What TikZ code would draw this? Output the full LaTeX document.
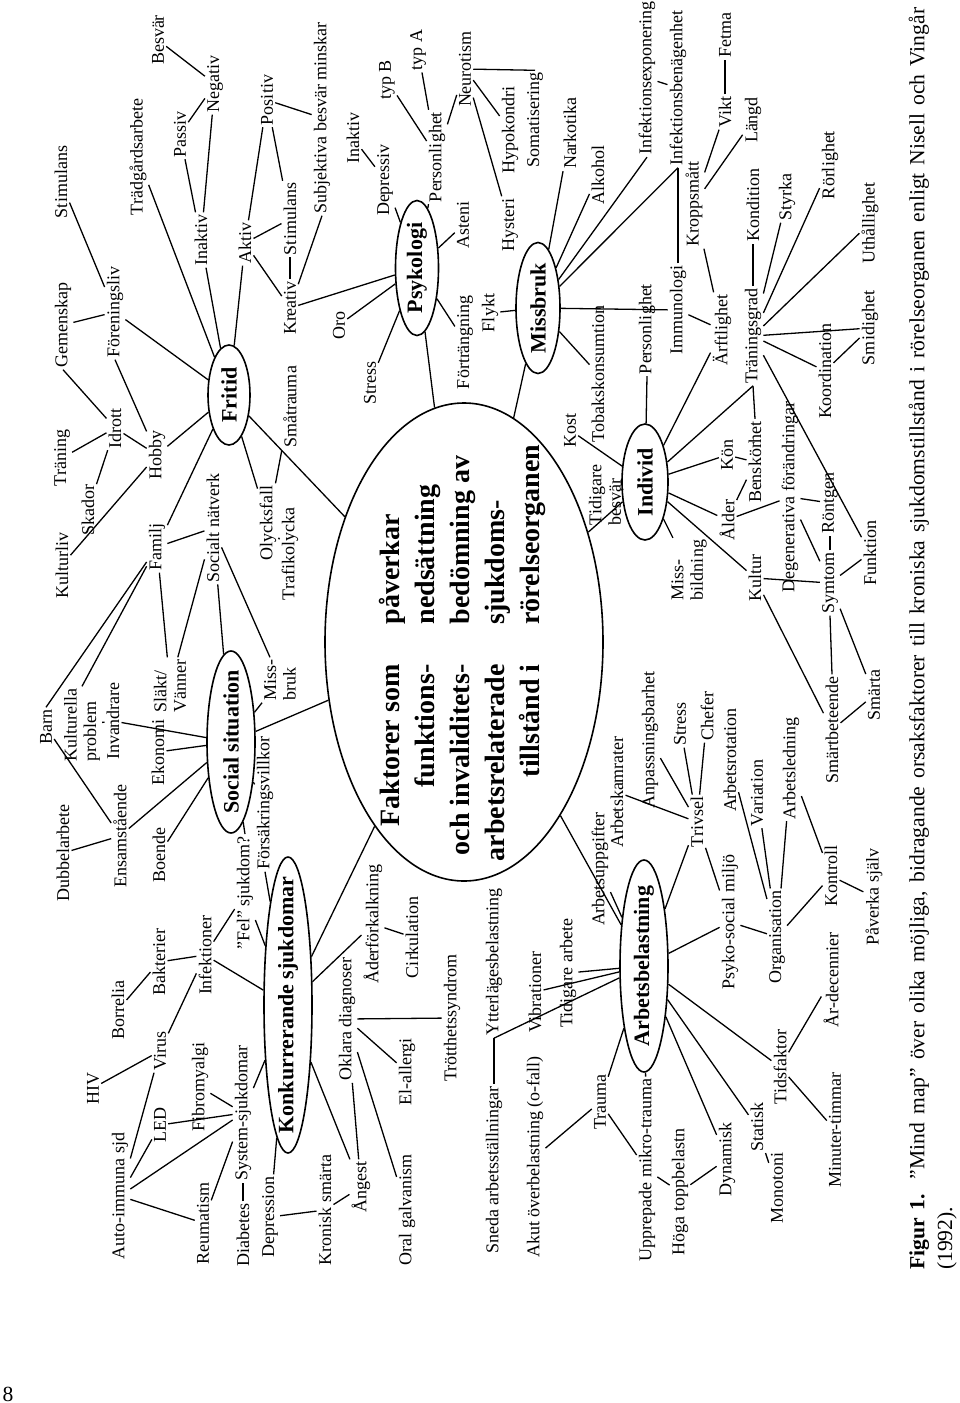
\documentclass[tikz,border=0pt]{standalone}
\usepackage{fontspec}
\setmainfont{Liberation Serif}
\usetikzlibrary{shapes.geometric}
\newcommand\lblfont{\fontsize{18}{19.5}\selectfont}
\newcommand\ovalfont{\fontsize{22}{24}\selectfont\bfseries}
\newcommand\centerfont{\fontsize{28}{35}\selectfont\bfseries}
\newcommand\capfont{\fontsize{21.6}{26}\selectfont}
\begin{document}
\begin{tikzpicture}[x=1pt,y=-1pt,
  lbl/.style={rotate=90,font=\lblfont,inner sep=2pt},
  oval/.style={ellipse,draw,line width=1.6pt,rotate=90,inner sep=0pt},
  ovaltext/.style={rotate=90,font=\ovalfont,inner sep=0pt},
  con/.style={line width=1.3pt}]
\fill[white] (0,0) rectangle (960,1403);
\useasboundingbox (0,0) rectangle (960,1403);
% ---------- ellipses
\node[oval,minimum width=478pt,minimum height=278pt] (main) at (464,642) {};
\node[ovaltext,font=\centerfont] (maintext) at (462,653)
 {\begin{tabular}{@{}r@{\hspace{40pt}}l@{}}Faktorer som & påverkar\\ funktions- & nedsättning\\ och invaliditets- & bedömning av\\ arbetsrelaterade & sjukdoms-\\ tillstånd i & rörelseorganen\end{tabular}};
\node[oval,minimum width=100pt,minimum height=42pt] (fritid) at (229,395) {};
\node[ovaltext] (fritidtext) at (fritid) {Fritid};
\node[oval,minimum width=135pt,minimum height=43pt] (psykologi) at (417,268) {};
\node[ovaltext] (psykologitext) at (psykologi) {Psykologi};
\node[oval,minimum width=131pt,minimum height=44pt] (missbruk) at (538,308) {};
\node[ovaltext] (missbruktext) at (missbruk) {Missbruk};
\node[oval,minimum width=116pt,minimum height=46pt] (individ) at (645,482) {};
\node[ovaltext] (individtext) at (individ) {Individ};
\node[oval,minimum width=182pt,minimum height=48pt] (socsit) at (231,742) {};
\node[ovaltext] (socsittext) at (socsit) {Social situation};
\node[oval,minimum width=296pt,minimum height=48pt] (konk) at (288,1005) {};
\node[ovaltext] (konktext) at (konk) {Konkurrerande sjukdomar};
\node[oval,minimum width=212pt,minimum height=48pt] (arbetsbel) at (644,966) {};
\node[ovaltext] (arbetsbeltext) at (arbetsbel) {Arbetsbelastning};
% ---------- Fritid cluster
\node[lbl] (besvar) at (158,40) {Besvär};
\node[lbl] (negativ) at (215,84) {Negativ};
\node[lbl] (passiv) at (180,134) {Passiv};
\node[lbl] (tradg) at (138,157) {Trädgårdsarbete};
\node[lbl] (stim1) at (61,182) {Stimulans};
\node[lbl] (inaktiv1) at (201,240) {Inaktiv};
\node[lbl] (positiv) at (267,100) {Positiv};
\node[lbl] (aktiv) at (245,243) {Aktiv};
\node[lbl] (stim2) at (290,219) {Stimulans};
\node[lbl] (kreativ) at (290,308) {Kreativ};
\node[lbl] (gemenskap) at (63,325) {Gemenskap};
\node[lbl] (forening) at (115,312) {Föreningsliv};
\node[lbl] (subj) at (322,118) {Subjektiva besvär minskar};
\node[lbl] (idrott) at (115,428) {Idrott};
\node[lbl] (traning) at (62,458) {Träning};
\node[lbl] (skador) at (88,510) {Skador};
\node[lbl] (hobby) at (157,455) {Hobby};
\node[lbl] (kulturliv) at (62,565) {Kulturliv};
\node[lbl] (familj) at (157,547) {Familj};
\node[lbl] (socnat) at (213,528) {Socialt nätverk};
\node[lbl] (olycksfall) at (268,523) {Olycksfall};
\node[lbl] (trafik) at (290,554) {Trafikolycka};
\node[lbl] (smatrauma) at (290,407) {Småtrauma};
% ---------- Psykologi cluster
\node[lbl] (inaktiv2) at (353,138) {Inaktiv};
\node[lbl] (depressiv) at (385,180) {Depressiv};
\node[lbl] (typB) at (387,80) {typ B};
\node[lbl] (typA) at (418,50) {typ A};
\node[lbl] (personl1) at (437,157) {Personlighet};
\node[lbl] (neurotism) at (465,69) {Neurotism};
\node[lbl] (hypokondri) at (510,130) {Hypokondri};
\node[lbl] (somatis) at (535,120) {Somatisering};
\node[lbl] (asteni) at (463,225) {Asteni};
\node[lbl] (hysteri) at (510,225) {Hysteri};
\node[lbl] (oro) at (339,325) {Oro};
\node[lbl] (stress1) at (370,383) {Stress};
\node[lbl] (fortrang) at (465,342) {Förträngning};
\node[lbl] (flykt) at (490,313) {Flykt};
% ---------- Missbruk cluster
\node[lbl] (narkotika) at (570,133) {Narkotika};
\node[lbl] (alkohol) at (598,175) {Alkohol};
\node[lbl] (tobak) at (598,374) {Tobakskonsumtion};
\node[lbl] (kost) at (570,430) {Kost};
\node[lbl,align=left] (tidbesvar) at (605,495) {Tidigare\\besvär};
% ---------- Individ cluster
\node[lbl] (infexp) at (647,78) {Infektionsexponering};
\node[lbl] (infben) at (678,88) {Infektionsbenägenhet};
\node[lbl] (fetma) at (725,35) {Fetma};
\node[lbl] (vikt) at (725,112) {Vikt};
\node[lbl] (langd) at (753,120) {Längd};
\node[lbl] (kroppsmatt) at (694,204) {Kroppsmått};
\node[lbl] (kondition) at (753,205) {Kondition};
\node[lbl] (styrka) at (787,197) {Styrka};
\node[lbl] (rorlighet) at (830,165) {Rörlighet};
\node[lbl] (uthallighet) at (870,223) {Uthållighet};
\node[lbl] (immunologi) at (678,310) {Immunologi};
\node[lbl] (personl2) at (647,329) {Personlighet};
\node[lbl] (arftlighet) at (722,330) {Ärftlighet};
\node[lbl] (traningsgrad) at (753,336) {Träningsgrad};
\node[lbl] (smidighet) at (870,328) {Smidighet};
\node[lbl] (koordination) at (825,371) {Koordination};
\node[lbl] (benskorhet) at (755,462) {Benskörhet};
\node[lbl] (kon) at (727,455) {Kön};
\node[lbl] (alder) at (727,520) {Ålder};
\node[lbl,align=left] (missbild) at (689,570) {Miss-\\bildning};
\node[lbl] (kultur) at (755,578) {Kultur};
\node[lbl] (degen) at (790,497) {Degenerativa förändringar};
\node[lbl] (rontgen) at (830,503) {Röntgen};
\node[lbl] (symtom) at (830,583) {Symtom};
\node[lbl] (funktion) at (870,553) {Funktion};
\node[lbl] (smartbet) at (832,730) {Smärtbeteende};
\node[lbl] (smarta) at (874,695) {Smärta};
% ---------- Arbetsbelastning cluster
\node[lbl] (arbuppg) at (600,869) {Arbetsuppgifter};
\node[lbl] (arbkam) at (617,792) {Arbetskamrater};
\node[lbl] (anpass) at (650,740) {Anpassningsbarhet};
\node[lbl] (stress2) at (680,724) {Stress};
\node[lbl] (chefer) at (707,716) {Chefer};
\node[lbl] (trivsel) at (697,822) {Trivsel};
\node[lbl] (arbrot) at (730,760) {Arbetsrotation};
\node[lbl] (variation) at (757,793) {Variation};
\node[lbl] (arbled) at (791,768) {Arbetsledning};
\node[lbl] (psyko) at (730,922) {Psyko-social miljö};
\node[lbl] (organis) at (777,937) {Organisation};
\node[lbl] (kontroll) at (831,876) {Kontroll};
\node[lbl] (paverka) at (874,897) {Påverka själv};
\node[lbl] (ardec) at (831,980) {År-decennier};
\node[lbl] (tidsfaktor) at (780,1067) {Tidsfaktor};
\node[lbl] (minuter) at (835,1130) {Minuter-timmar};
\node[lbl] (monotoni) at (777,1188) {Monotoni};
\node[lbl] (statisk) at (757,1127) {Statisk};
\node[lbl] (dynamisk) at (727,1159) {Dynamisk};
\node[lbl] (hoga) at (680,1192) {Höga toppbelastn};
\node[lbl] (upprepade) at (647,1170) {Upprepade mikro-trauma};
\node[lbl] (trauma) at (600,1102) {Trauma};
\node[lbl] (akut) at (535,1157) {Akut överbelastning (o-fall)};
\node[lbl] (sneda) at (494,1170) {Sneda arbetsställningar};
\node[lbl] (ytter) at (494,962) {Ytterlägesbelastning};
\node[lbl] (vibrationer) at (535,992) {Vibrationer};
\node[lbl] (tidarbete) at (568,973) {Tidigare arbete};
% ---------- Konkurrerande cluster
\node[lbl] (aderf) at (373,924) {Åderförkalkning};
\node[lbl] (oklara) at (347,1019) {Oklara diagnoser};
\node[lbl] (cirk) at (412,937) {Cirkulation};
\node[lbl] (trott) at (452,1018) {Trötthetssyndrom};
\node[lbl] (elallergi) at (407,1072) {El-allergi};
\node[lbl] (oral) at (407,1210) {Oral galvanism};
\node[lbl] (angest) at (361,1187) {Ångest};
\node[lbl] (kronisk) at (325,1210) {Kronisk smärta};
\node[lbl] (depression) at (270,1217) {Depression};
\node[lbl] (system) at (243,1113) {System-sjukdomar};
\node[lbl] (diabetes) at (243,1235) {Diabetes};
\node[lbl] (reumatism) at (203,1223) {Reumatism};
\node[lbl] (fibro) at (200,1087) {Fibromyalgi};
\node[lbl] (led) at (160,1125) {LED};
\node[lbl] (autoimm) at (120,1196) {Auto-immuna sjd};
\node[lbl] (hiv) at (93,1088) {HIV};
\node[lbl] (virus) at (160,1051) {Virus};
\node[lbl] (borrelia) at (118,1010) {Borrelia};
\node[lbl] (bakterier) at (159,962) {Bakterier};
\node[lbl] (infektioner) at (205,955) {Infektioner};
\node[lbl] (fel) at (245,893) {”Fel” sjukdom?};
\node[lbl] (forsakr) at (265,803) {Försäkringsvillkor};
% ---------- Social situation cluster
\node[lbl] (barn) at (46,727) {Barn};
\node[lbl,align=left] (kultprob) at (82,725) {Kulturella\\problem};
\node[lbl] (invandrare) at (113,721) {Invandrare};
\node[lbl] (ekonomi) at (158,752) {Ekonomi};
\node[lbl,align=left] (slakt) at (170,686) {Släkt/\\Vänner};
\node[lbl,align=left] (missbruk2) at (280,680) {Miss-\\bruk};
\node[lbl] (dubbel) at (63,853) {Dubbelarbete};
\node[lbl] (ensam) at (120,836) {Ensamstående};
\node[lbl] (boende) at (159,855) {Boende};
% ---------- caption
\node[lbl,font=\capfont,anchor=west,inner sep=0pt] (cap1) at (919,1270) {\makebox[1262pt][s]{\textbf{Figur 1.} ”Mind map” över olika möjliga, bidragande orsaksfaktorer till kroniska sjukdomstillstånd i rörelseorganen enligt Nisell och Vingår}};
\node[lbl,font=\capfont,anchor=west,inner sep=0pt] (cap2) at (947,1270) {(1992).};
\node[font=\capfont,inner sep=0pt] (pnum) at (8,1394) {8};
% ---------- connectors
\begin{scope}[con]
% Fritid
\draw (besvar)--(negativ); \draw (passiv)--(negativ); \draw (passiv)--(inaktiv1);
\draw (negativ)--(inaktiv1); \draw (inaktiv1)--(fritid); \draw (tradg)--(fritid);
\draw (stim1)--(forening); \draw (gemenskap)--(forening); \draw (forening)--(fritid);
\draw (forening.west)--(hobby); \draw (aktiv)--(positiv); \draw (positiv)--(stim2);
\draw (positiv)--(subj); \draw (aktiv)--(stim2); \draw (aktiv)--(kreativ);
\draw (aktiv)--(fritid); \draw (kreativ.east)--(stim2.west); \draw (kreativ)--(subj.west);
\draw (kreativ)--(psykologi); \draw (gemenskap.west)--(idrott); \draw (traning)--(idrott);
\draw (skador)--(idrott); \draw (idrott)--(hobby); \draw (hobby)--(fritid);
\draw (kulturliv)--(hobby); \draw (familj)--(fritid); \draw (familj)--(socnat);
\draw (fritid)--(olycksfall); \draw (smatrauma)--(olycksfall); \draw (olycksfall)--(trafik);
\draw (fritid)--(main);
% Social situation
\draw (familj)--(barn.east); \draw (familj)--(kultprob.east); \draw (familj)--(slakt);
\draw (socnat)--(slakt); \draw (socnat)--(socsit); \draw (socnat)--(missbruk2);
\draw (missbruk2)--(socsit); \draw (barn)--(ensam); \draw (kultprob)--(invandrare);
\draw (invandrare)--(socsit); \draw (ekonomi)--(socsit); \draw (dubbel)--(ensam);
\draw (ensam)--(socsit); \draw (boende)--(socsit); \draw (forsakr)--(socsit);
\draw (fel.east)--(socsit); \draw (socsit)--(main);
% Konkurrerande
\draw (borrelia)--(bakterier); \draw (bakterier)--(infektioner); \draw (virus)--(infektioner);
\draw (infektioner)--(fel); \draw (infektioner)--(konk); \draw (fel)--(konk);
\draw (forsakr.west)--(konk); \draw (hiv)--(virus); \draw (autoimm)--(virus);
\draw (autoimm)--(led); \draw (autoimm)--(system); \draw (autoimm)--(reumatism);
\draw (led)--(system); \draw (fibro)--(system); \draw (reumatism)--(system);
\draw (diabetes.east)--(system.west); \draw (system)--(konk); \draw (depression)--(konk);
\draw (depression)--(kronisk); \draw (kronisk)--(angest); \draw (konk)--(angest);
\draw (oklara)--(angest); \draw (oklara)--(oral); \draw (oklara)--(elallergi);
\draw (oklara)--(trott); \draw (konk)--(aderf); \draw (aderf)--(cirk); \draw (konk)--(main);
% Arbetsbelastning
\draw (main)--(arbetsbel); \draw (arbuppg)--(arbetsbel); \draw (tidarbete)--(arbetsbel);
\draw (vibrationer)--(arbetsbel); \draw (ytter.west)--(arbetsbel); \draw (sneda.east)--(ytter.west);
\draw (akut)--(trauma); \draw (trauma)--(arbetsbel); \draw (trauma)--(upprepade);
\draw (upprepade)--(arbetsbel); \draw (upprepade)--(hoga); \draw (hoga)--(dynamisk);
\draw (dynamisk)--(arbetsbel); \draw (statisk)--(arbetsbel); \draw (statisk)--(monotoni);
\draw (tidsfaktor)--(arbetsbel); \draw (tidsfaktor)--(minuter); \draw (tidsfaktor)--(ardec);
\draw (arbetsbel)--(psyko); \draw (arbetsbel)--(trivsel); \draw (arbkam)--(trivsel);
\draw (anpass)--(trivsel); \draw (stress2)--(trivsel); \draw (chefer)--(trivsel);
\draw (psyko)--(trivsel); \draw (psyko)--(organis); \draw (arbrot)--(organis);
\draw (variation)--(organis); \draw (arbled)--(organis); \draw (arbled)--(kontroll);
\draw (organis)--(kontroll); \draw (kontroll)--(paverka);
% Individ
\draw (main)--(individ); \draw (individ)--(personl2.west); \draw (individ)--(arftlighet);
\draw (individ)--(traningsgrad.west); \draw (individ)--(kon); \draw (individ)--(alder);
\draw (individ)--(missbild); \draw (individ)--(kultur); \draw (kost)--(individ);
\draw (tidbesvar)--(individ); \draw (kon)--(benskorhet); \draw (alder)--(benskorhet);
\draw (alder)--(degen); \draw (degen)--(rontgen); \draw (degen)--(symtom);
\draw (symtom.east)--(rontgen.west); \draw (symtom)--(funktion); \draw (kultur)--(symtom);
\draw (kultur)--(smartbet); \draw (smartbet.east)--(symtom.west); \draw (symtom)--(smarta);
\draw (smartbet)--(smarta); \draw (benskorhet.east)--(traningsgrad.west);
\draw (traningsgrad.east)--(kondition.west); \draw (traningsgrad)--(styrka);
\draw (traningsgrad)--(rorlighet); \draw (traningsgrad)--(uthallighet);
\draw (traningsgrad)--(smidighet); \draw (traningsgrad)--(koordination);
\draw (traningsgrad)--(funktion); \draw (koordination)--(smidighet);
\draw (kroppsmatt)--(vikt); \draw (kroppsmatt)--(langd); \draw (kroppsmatt)--(arftlighet);
\draw (vikt.east)--(fetma.west); \draw (immunologi)--(arftlighet);
\draw (immunologi.east)--(infben.west); \draw (infben)--(infexp);
% Missbruk
\draw (main)--(missbruk); \draw (missbruk)--(narkotika); \draw (missbruk)--(alkohol);
\draw (missbruk)--(infexp.west); \draw (missbruk)--(infben.west); \draw (missbruk)--(immunologi);
\draw (missbruk)--(flykt); \draw (missbruk)--(tobak);
% Psykologi
\draw (main)--(psykologi); \draw (psykologi)--(stress1); \draw (psykologi)--(oro);
\draw (psykologi)--(depressiv); \draw (psykologi)--(personl1); \draw (psykologi)--(asteni);
\draw (psykologi)--(fortrang); \draw (inaktiv2)--(depressiv); \draw (typB)--(personl1);
\draw (typA)--(personl1); \draw (personl1)--(neurotism); \draw (neurotism)--(hysteri);
\draw (neurotism)--(hypokondri); \draw (neurotism)--(somatis.east);
\end{scope}
\end{tikzpicture}
\end{document}
